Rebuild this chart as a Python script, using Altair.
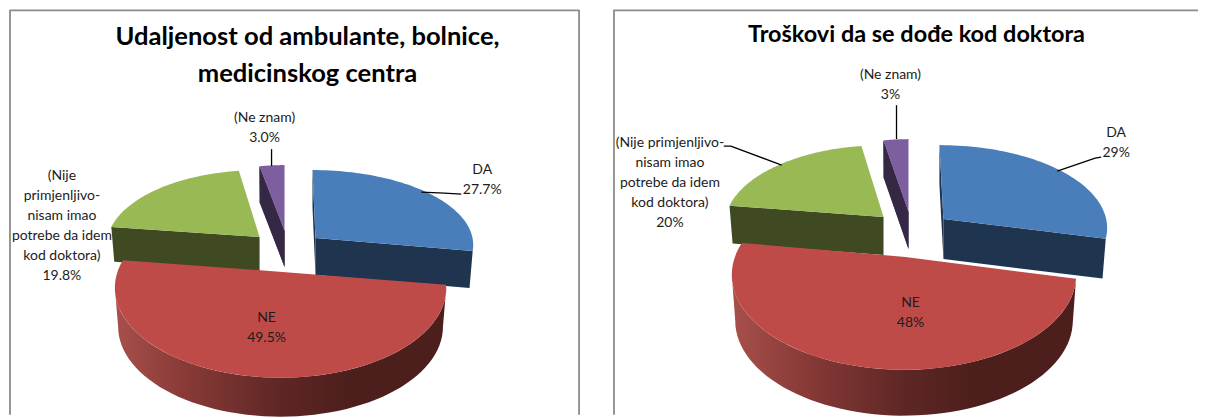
import math
import altair as alt
import pandas as pd

CATEGORIES = ["DA", "NE", "(Nije primjenljivo-nisam imao potrebe da idem kod doktora)", "(Ne znam)"]
LEFT_VALUES = [27.7, 49.5, 19.8, 3.0]
RIGHT_VALUES = [29, 48, 20, 3]
LEFT_TITLE = ["Udaljenost od ambulante, bolnice,", "medicinskog centra"]
RIGHT_TITLE = ["Troškovi da se dođe kod doktora"]
LEFT_WRAPPED = ["DA", "NE", "(Nije\nprimjenljivo-\nnisam imao\npotrebe da idem\nkod doktora)", "(Ne znam)"]
RIGHT_WRAPPED = ["DA", "NE", "(Nije primjenljivo-\nnisam imao\npotrebe da idem\nkod doktora)", "(Ne znam)"]

TOP = ["#4A7EBB", "#BE4B48", "#98B954", "#7D5FA0"]
SIDE = ["#1F344E", None, "#3F4A22", "#352845"]
WALL = alt.Gradient(gradient="linear", x1=0, x2=1, y1=0, y2=0, stops=[
    alt.GradientStop(color="#A8504B", offset=0),
    alt.GradientStop(color="#8A3B38", offset=0.2),
    alt.GradientStop(color="#5E2725", offset=0.5),
    alt.GradientStop(color="#4C1E1C", offset=0.72),
    alt.GradientStop(color="#4C1E1C", offset=1),
])

# slice layout: apex, ellipse centre, radii, depth, angle corrections for the perspective
LEFT_LAYOUT = [
    dict(a=(316, 238), c=(313, 245), r=(161, 75), d=37, t=(0, -5)),
    dict(a=(283, 272), c=(281, 288), r=(166, 90), d=39, t=(-11.7, 10)),
    dict(a=(260, 237), c=(260, 245), r=(153, 75), d=35, t=(6, 3)),
    dict(a=(285, 231), c=(285, 231), r=(134, 66), d=36, t=(0, 0)),
]
RIGHT_LAYOUT = [
    dict(a=(943, 219), c=(939, 228), r=(168, 83), d=40, t=(0, -7)),
    dict(a=(905, 257), c=(903.5, 275), r=(172.5, 95), d=46, t=(-12, 12.5)),
    dict(a=(883, 217), c=(883, 225), r=(159, 80), d=38, t=(6.8, 2.8)),
    dict(a=(908, 212), c=(908, 212), r=(134, 73), d=37, t=(0, 0)),
]
LEFT_LABELS = [(483, 170), (267, 318), (62, 176), (265, 118)]
RIGHT_LABELS = [(1116, 133), (910, 303), (669, 143), (890, 75)]
LEFT_LEADERS = [[(422, 192), (445, 193), (462, 194)], [(272, 149), (272, 166)]]
RIGHT_LEADERS = [[(1057, 171), (1095, 158), (1101, 157)], [(723, 146), (730, 146), (781, 165)], [(896, 105), (896, 139)]]
LEFT_FRAME = [(10, 415), (10, 10), (580, 10), (580, 415)]
RIGHT_FRAME = [(613, 415), (613, 10), (1198, 10)]


def outline(points):
    return pd.DataFrame([dict(px=p[0], py=p[1], i=i) for i, p in enumerate(points)])


def ellipse_point(s, deg, shrink=1.0, drop=0.0):
    rad = math.radians(deg)
    return (s["c"][0] + shrink * s["r"][0] * math.sin(rad), s["c"][1] - s["r"][1] * math.cos(rad) + drop)


def polygon(points, fill, xs, ys):
    return alt.Chart(outline(points)).mark_line(filled=True, fill=fill, strokeOpacity=0).encode(
        x=alt.X("px:Q", scale=xs, axis=None),
        y=alt.Y("py:Q", scale=ys, axis=None),
        order="i:Q",
    )


def polyline(points, color, width, xs, ys):
    return alt.Chart(outline(points)).mark_line(color=color, strokeWidth=width, strokeJoin="round").encode(
        x=alt.X("px:Q", scale=xs, axis=None),
        y=alt.Y("py:Q", scale=ys, axis=None),
        order="i:Q",
    )


def panel(values, layout, wrapped, labels, leaders, frame, title_lines, title_x, title_y, title_size, fmt, x0, w, h):
    xs = alt.Scale(domain=[x0, x0 + w], nice=False, zero=False)
    ys = alt.Scale(domain=[8 + h, 8], nice=False, zero=False)
    total = sum(values)
    bounds, acc = [], 0.0
    for v in values:
        bounds.append((acc * 360 / total, (acc + v) * 360 / total))
        acc += v
    layers = [polyline(frame, "#8C8C8C", 1.8, xs, ys)]
    for idx in [2, 3, 0, 1]:
        s = layout[idx]
        a0 = bounds[idx][0] + s["t"][0]
        a1 = bounds[idx][1] + s["t"][1]
        steps = 60
        arc = [ellipse_point(s, a0 + (a1 - a0) * k / steps) for k in range(steps + 1)]
        d = s["d"]
        ax, ay = s["a"]
        if idx == 1:
            lo, hi = max(a0, 90), 270
            wall_top = [ellipse_point(s, lo + (hi - lo) * k / steps) for k in range(steps + 1)]
            wall_bot = [ellipse_point(s, hi - (hi - lo) * k / steps, 0.98, d) for k in range(steps + 1)]
            layers.append(polygon(wall_top + wall_bot, WALL, xs, ys))
        else:
            for edge in ([arc[-1]] if idx == 0 else [arc[0]]):
                pts = [(ax, ay), edge, (ax + (edge[0] - ax) * 0.98, edge[1] + d), (ax, ay + d)]
                layers.append(polygon(pts, SIDE[idx], xs, ys))
            if idx in (0, 3):
                edge = arc[0]
                pts = [(ax, ay), edge, (edge[0], edge[1] + d), (ax, ay + d)]
                layers.append(polygon(pts, SIDE[idx], xs, ys))
        layers.append(polygon([(ax, ay)] + arc, TOP[idx], xs, ys))
    for leader in leaders:
        layers.append(polyline(leader, "#000000", 1.3, xs, ys))
    label_df = pd.DataFrame([
        dict(category=CATEGORIES[i], px=labels[i][0], py=labels[i][1],
             text=wrapped[i] + "\n" + format(values[i], fmt) + "%")
        for i in range(len(values))
    ])
    layers.append(alt.Chart(label_df).mark_text(
        font="Lato", fontSize=14, lineBreak="\n", lineHeight=20, color="#1c1c1c",
        align="center", baseline="middle",
    ).encode(
        x=alt.X("px:Q", scale=xs, axis=None),
        y=alt.Y("py:Q", scale=ys, axis=None),
        text="text:N",
    ))
    title_df = pd.DataFrame([dict(px=title_x, py=title_y, text="\n".join(title_lines))])
    layers.append(alt.Chart(title_df).mark_text(
        font="Lato", fontSize=title_size, fontWeight="bold", lineBreak="\n", lineHeight=37, color="#000000",
        align="center", baseline="middle",
    ).encode(
        x=alt.X("px:Q", scale=xs, axis=None),
        y=alt.Y("py:Q", scale=ys, axis=None),
        text="text:N",
    ))
    return alt.layer(*layers).properties(width=w, height=h)


left = panel(LEFT_VALUES, LEFT_LAYOUT, LEFT_WRAPPED, LEFT_LABELS, LEFT_LEADERS, LEFT_FRAME,
             LEFT_TITLE, 308, 37, 25.6, ".1f", 8, 572, 402)
right = panel(RIGHT_VALUES, RIGHT_LAYOUT, RIGHT_WRAPPED, RIGHT_LABELS, RIGHT_LEADERS, RIGHT_FRAME,
              RIGHT_TITLE, 916, 35, 23.5, ".0f", 613, 587, 402)

chart = alt.hconcat(left, right, spacing=33).properties(padding=0, background="#ffffff").configure_view(
    strokeOpacity=0
)
chart.save("out.html", embed_options={"renderer": "svg", "actions": False})
